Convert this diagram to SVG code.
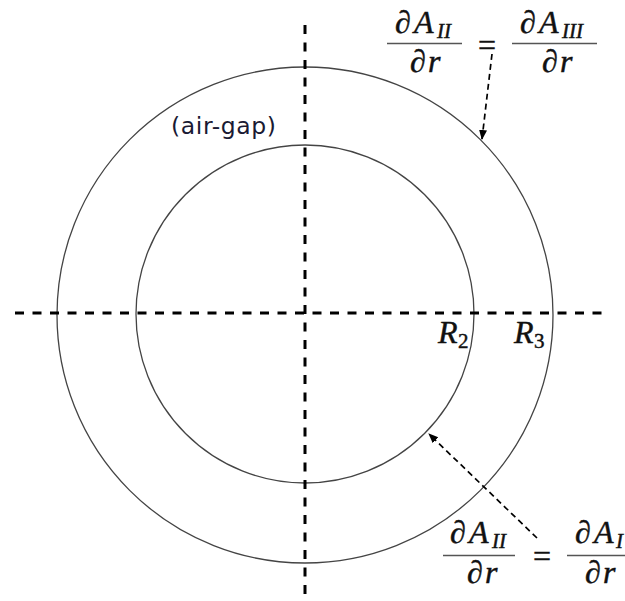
<svg xmlns="http://www.w3.org/2000/svg" width="625" height="601" viewBox="0 0 625 601">
<style>
.circ{fill:none;stroke:#444;stroke-width:1.3}
.axis{stroke:#000;stroke-width:3;stroke-dasharray:9 8.5;fill:none}
.conn{stroke:#000;stroke-width:1.7;stroke-dasharray:6 4;fill:none}
.m,.mi,.ms,.mn{font-family:"Liberation Serif","DejaVu Serif",serif;fill:#111;stroke:#111;stroke-width:0.45}
.m{font-size:32px}
.mi{font-size:32px;font-style:italic}
.ms{font-size:21px;font-style:italic}
.mn{font-size:21px}
.bar{stroke:#555;stroke-width:1.5}
.lbl{font-family:"DejaVu Sans",Verdana,sans-serif;font-size:23.5px;fill:#1a1a33;letter-spacing:0.6px}
</style>
<defs>
<marker id="ah" viewBox="0 0 10 10" refX="9" refY="5" markerWidth="10" markerHeight="10" markerUnits="userSpaceOnUse" orient="auto">
<path d="M0,1 L10,5 L0,9 z" fill="#000"/>
</marker>
</defs>
<rect width="625" height="601" fill="#fff"/>
<g id="outer-circle"><circle class="circ" cx="305" cy="315" r="248"/></g>
<g id="inner-circle"><circle class="circ" cx="305" cy="314" r="169"/></g>
<g id="axes">
<line class="axis" x1="15" y1="313" x2="610" y2="313"/>
<line class="axis" x1="305" y1="25" x2="305" y2="598"/>
</g>
<g id="air-gap-label"><text class="lbl" x="171" y="134">(air-gap)</text></g>
<g id="label-R2"><text class="mi" x="438" y="343">R</text><text class="mn" x="458" y="348">2</text></g>
<g id="label-R3"><text class="mi" x="514" y="343">R</text><text class="mn" x="534" y="348">3</text></g>
<g id="eq-top">
<text class="m" x="395" y="33">∂</text><text class="mi" x="414" y="33">A</text><text class="ms" x="437" y="38">II</text>
<line class="bar" x1="387" y1="43.5" x2="462" y2="43.5"/>
<text class="m" x="410" y="72">∂</text><text class="mi" x="428" y="72">r</text>
<text class="m" x="478" y="56">=</text>
<text class="m" x="520" y="33">∂</text><text class="mi" x="539" y="33">A</text><text class="ms" x="562" y="38">III</text>
<line class="bar" x1="512" y1="43.5" x2="597" y2="43.5"/>
<text class="m" x="542" y="72">∂</text><text class="mi" x="560" y="72">r</text>
</g>
<g id="eq-bottom">
<text class="m" x="450" y="543">∂</text><text class="mi" x="469" y="543">A</text><text class="ms" x="492" y="548">II</text>
<line class="bar" x1="443" y1="555.5" x2="515" y2="555.5"/>
<text class="m" x="467" y="583">∂</text><text class="mi" x="485" y="583">r</text>
<text class="m" x="533" y="567">=</text>
<text class="m" x="575" y="543">∂</text><text class="mi" x="594" y="543">A</text><text class="ms" x="616" y="548">I</text>
<line class="bar" x1="567" y1="555.5" x2="625" y2="555.5"/>
<text class="m" x="585" y="583">∂</text><text class="mi" x="603" y="583">r</text>
</g>
<g id="connectors">
<line class="conn" x1="492" y1="54" x2="482" y2="139" marker-end="url(#ah)"/>
<line class="conn" x1="537" y1="538" x2="429" y2="434" marker-end="url(#ah)"/>
</g>
</svg>
